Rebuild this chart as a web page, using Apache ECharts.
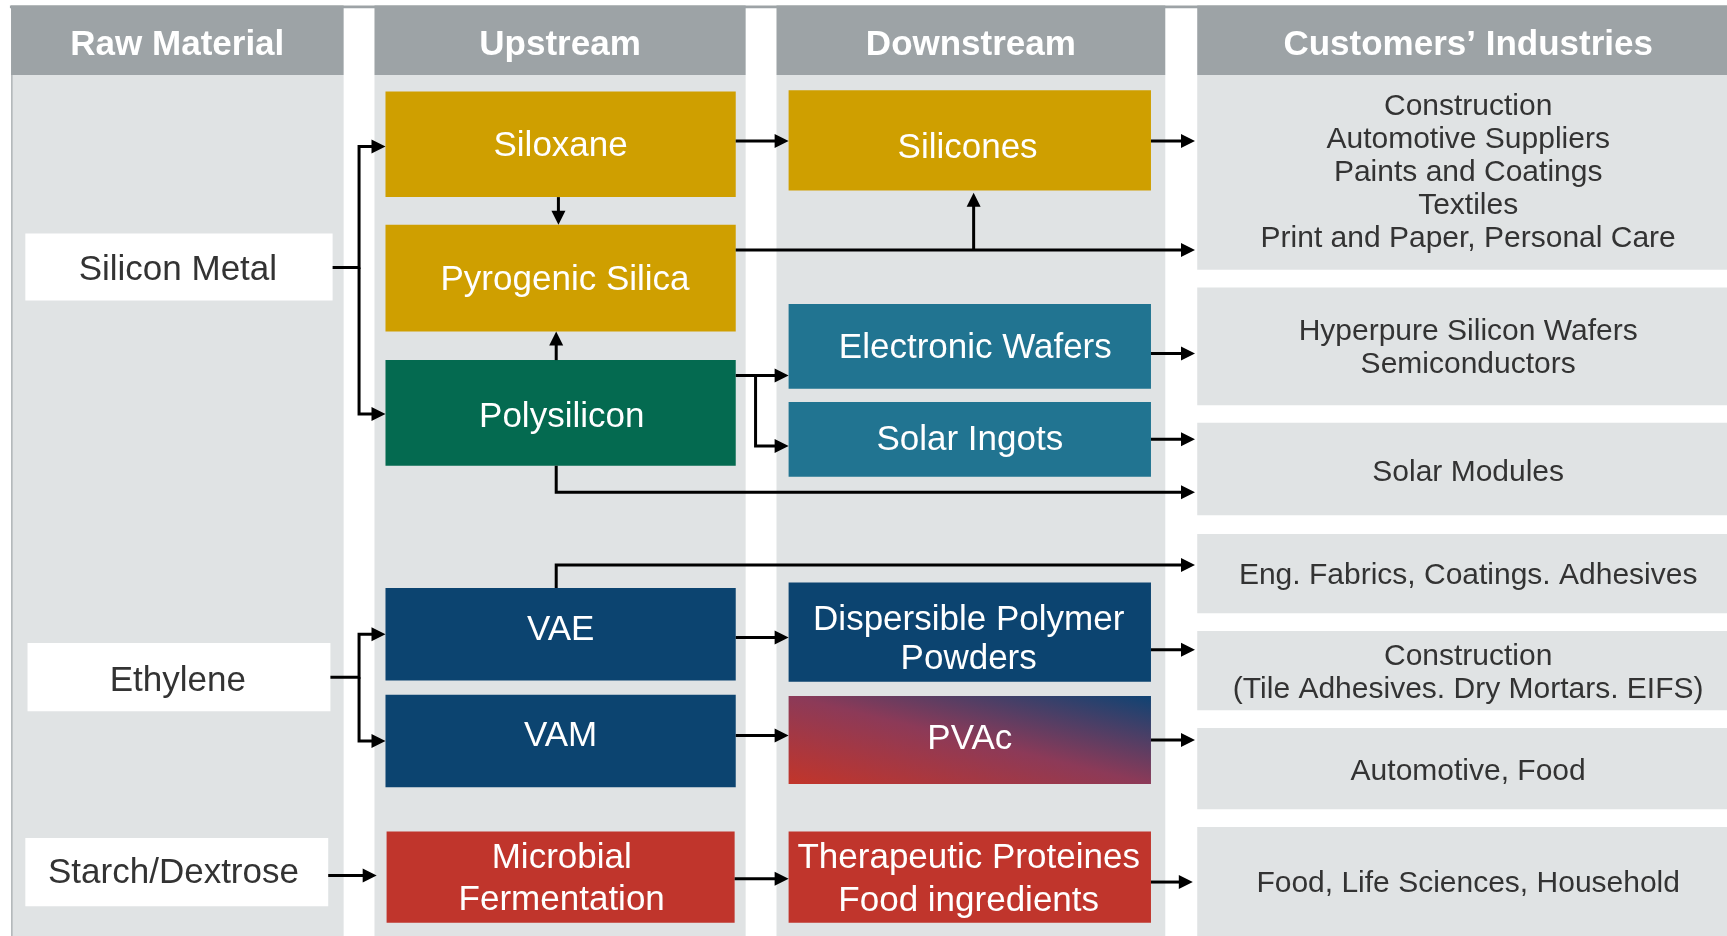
<!DOCTYPE html>
<html>
<head>
<meta charset="utf-8">
<title>Value chain</title>
<script src="https://cdn.jsdelivr.net/npm/echarts@6.0.0/dist/echarts.min.js"></script>
<style>
  html, body { margin: 0; padding: 0; background: #fff; }
  #chart { width: 1727px; height: 936px; }
</style>
</head>
<body>
<div id="chart"></div>
<script>
// column titles
const headers = ['Raw Material', 'Upstream', 'Downstream', 'Customers\u2019 Industries'];

// products of each stage
const rawMaterials = ['Silicon Metal', 'Ethylene', 'Starch/Dextrose'];
const upstream = ['Siloxane', 'Pyrogenic Silica', 'Polysilicon', 'VAE', 'VAM', 'Microbial\nFermentation'];
const downstream = ['Silicones', 'Electronic Wafers', 'Solar Ingots', 'Dispersible Polymer\nPowders', 'PVAc', 'Therapeutic Proteines\nFood ingredients'];
const industries = [
  'Construction\nAutomotive Suppliers\nPaints and Coatings\nTextiles\nPrint and Paper, Personal Care',
  'Hyperpure Silicon Wafers\nSemiconductors',
  'Solar Modules',
  'Eng. Fabrics, Coatings. Adhesives',
  'Construction\n(Tile Adhesives. Dry Mortars. EIFS)',
  'Automotive, Food',
  'Food, Life Sciences, Household'
];

// product family of every box, picks the colour
const upstreamFamily = ['silicone', 'silicone', 'poly', 'polymer', 'polymer', 'bio'];
const downstreamFamily = ['silicone', 'wafer', 'wafer', 'polymer', 'mixed', 'bio'];

// ---- layout, in units of a 1568 x 850 drawing grid ----
const colX = [[10, 312], [340, 677], [705, 1058], [1087, 1568]];
const headerY = [5, 68];
const headerShift = [[0, 4.5], [0, 4.5], [0, 4.5], [5.5, 4.5]];
const bodyBottom = 850;
// boxes are [x0, x1, y0, y1]
const rawBox = [[23, 302, 212, 273], [25, 300, 584, 646], [23, 298, 761, 823]];
const rawShift = [[-1, 3], [-1, 4], [-3, 1]];
const upBox = [
  [350, 668, 83, 179], [350, 668, 204, 301], [350, 668, 327, 423],
  [350, 668, 534, 618], [350, 668, 631, 715], [351, 667, 755, 838]
];
const upShift = [[0, 2], [4, 2], [1, 4], [0, -4], [0, -4], [1, 2.5]];
const upLine = [40, 40, 40, 40, 40, 42];
const downBox = [
  [716, 1045, 82, 173], [716, 1045, 276, 353], [716, 1045, 365, 433],
  [716, 1045, 529, 619], [716, 1045, 632, 712], [716, 1045, 755, 838]
];
const downShift = [[-2, 7], [5, 2], [0, 1], [-1, 7], [0, -1], [-1, 2.5]];
const downLine = [40, 40, 40, 38.5, 40, 43];
const bandY = [[68, 245], [261, 368], [384, 468], [485, 557], [573, 645], [661, 735], [751, 850]];
const bandShift = [[5.5, 0], [5.5, 2], [5.5, 3], [5.5, 2], [5.5, 2.5], [5.5, 3], [5.5, 2]];
// connectors, the last point is the arrow tip
const routes = [
  [[302, 243], [326, 243], [326, 133], [350, 133]],
  [[326, 243], [326, 376], [350, 376]],
  [[507, 179], [507, 204]],
  [[505, 327], [505, 301]],
  [[668, 128], [716, 128]],
  [[668, 227], [1085, 227]],
  [[884, 227], [884, 175]],
  [[1045, 128], [1085, 128]],
  [[668, 341], [716, 341]],
  [[686, 341], [686, 405], [716, 405]],
  [[505, 423], [505, 447], [1085, 447]],
  [[1045, 321], [1085, 321]],
  [[1045, 399], [1085, 399]],
  [[505, 534], [505, 513], [1085, 513]],
  [[300, 615], [326, 615], [326, 576], [350, 576]],
  [[326, 615], [326, 673], [350, 673]],
  [[668, 579], [716, 579]],
  [[668, 668], [716, 668]],
  [[1045, 590], [1085, 590]],
  [[1045, 672], [1085, 672]],
  [[298, 795], [342, 795]],
  [[667, 798], [716, 798]],
  [[1045, 801], [1083, 801]]
];

const FONT = '"Liberation Sans", Arial, sans-serif';
const headGray = '#9da3a6';
const bodyGray = '#e0e3e4';
const textDark = '#333333';
const familyColor = {
  silicone: '#cf9f00',
  poly: '#046a50',
  wafer: '#217491',
  polymer: '#0c4470',
  bio: '#c0352c'
};

// red-to-navy fill, iso lines along the box diagonal like the office gradient
function diagonalFill(r) {
  const w2 = r.width * r.width, h2 = r.height * r.height, l2 = w2 + h2;
  const a = h2 / l2, b = w2 / l2;
  return new echarts.graphic.LinearGradient(0.5 - a, 0.5 + b, 0.5 + a, 0.5 - b, [
    { offset: 0, color: '#c2352a' },
    { offset: 0.5, color: '#8c3a58' },
    { offset: 1, color: '#0f4373' }
  ]);
}

function rectOf(api, b) {
  const p0 = api.coord([b[0], b[2]]);
  const p1 = api.coord([b[1], b[3]]);
  return { x: p0[0], y: p0[1], width: p1[0] - p0[0], height: p1[1] - p0[1] };
}

function boxWithText(api, b, fill, text, color, size, weight, lineHeight, shift) {
  const r = rectOf(api, b);
  const s = shift || [0, 0];
  const k = r.width / (b[1] - b[0]);
  return {
    type: 'group',
    children: [
      { type: 'rect', shape: r, style: { fill: fill === 'mixed' ? diagonalFill(r) : fill } },
      {
        type: 'text',
        style: {
          text: text,
          x: r.x + r.width / 2 + s[0] * k,
          y: r.y + r.height / 2 + s[1] * k,
          align: 'center',
          verticalAlign: 'middle',
          fill: color,
          fontFamily: FONT,
          fontSize: size,
          fontWeight: weight || 'normal',
          lineHeight: lineHeight || size * 1.15
        }
      }
    ]
  };
}

const idx = arr => arr.map((d, i) => [i]);

const chart = echarts.init(document.getElementById('chart'));
chart.setOption({
  animation: false,
  grid: { left: 0, right: 0, top: 0, bottom: 0 },
  xAxis: { type: 'value', min: 0, max: 1568, show: false },
  yAxis: { type: 'value', min: 0, max: 850, inverse: true, show: false },
  series: [
    {
      // columns: header and grey body
      type: 'custom',
      data: idx(headers),
      renderItem: function (params, api) {
        const i = params.dataIndex;
        const c = colX[i];
        const children = [];
        if (i < 3) {
          children.push({ type: 'rect', shape: rectOf(api, [c[0], c[1], headerY[1], bodyBottom]), style: { fill: bodyGray } });
        }
        if (i === 0) {
          // thin top strip and left edge
          children.push({ type: 'rect', shape: rectOf(api, [9, 1568, headerY[0], headerY[0] + 2.5]), style: { fill: headGray } });
          children.push({ type: 'rect', shape: rectOf(api, [c[0], c[0] + 1.5, headerY[1], bodyBottom]), style: { fill: '#b4b9bb' } });
        }
        children.push(boxWithText(api, [c[0], c[1], headerY[0], headerY[1]], headGray, headers[i], '#ffffff', 35, 'bold', 40, headerShift[i]));
        return { type: 'group', children: children };
      }
    },
    {
      // customers' industries bands
      type: 'custom',
      data: idx(industries),
      renderItem: function (params, api) {
        const i = params.dataIndex;
        const b = [colX[3][0], colX[3][1], bandY[i][0], bandY[i][1]];
        return boxWithText(api, b, bodyGray, industries[i], textDark, 30, 'normal', 33, bandShift[i]);
      }
    },
    {
      type: 'custom',
      data: idx(rawMaterials),
      renderItem: function (params, api) {
        const i = params.dataIndex;
        return boxWithText(api, rawBox[i], '#ffffff', rawMaterials[i], textDark, 35, 'normal', 40, rawShift[i]);
      }
    },
    {
      type: 'custom',
      data: idx(upstream),
      renderItem: function (params, api) {
        const i = params.dataIndex;
        return boxWithText(api, upBox[i], familyColor[upstreamFamily[i]], upstream[i], '#ffffff', 35, 'normal', upLine[i], upShift[i]);
      }
    },
    {
      type: 'custom',
      data: idx(downstream),
      renderItem: function (params, api) {
        const i = params.dataIndex;
        const fam = downstreamFamily[i];
        return boxWithText(api, downBox[i], familyColor[fam] || fam, downstream[i], '#ffffff', 35, 'normal', downLine[i], downShift[i]);
      }
    },
    {
      // connectors with arrow heads
      type: 'custom',
      data: idx(routes),
      renderItem: function (params, api) {
        const pts = routes[params.dataIndex].map(p => api.coord(p));
        const tip = pts[pts.length - 1];
        const prev = pts[pts.length - 2];
        const dx = tip[0] - prev[0], dy = tip[1] - prev[1];
        const len = Math.sqrt(dx * dx + dy * dy);
        const ux = dx / len, uy = dy / len;
        const L = 14, W = 7;
        const base = [tip[0] - ux * L, tip[1] - uy * L];
        const linePts = pts.slice(0, -1).concat([[base[0] + ux, base[1] + uy]]);
        return {
          type: 'group',
          children: [
            {
              type: 'polyline',
              shape: { points: linePts },
              style: { stroke: '#000000', lineWidth: 3, fill: null, lineJoin: 'miter' }
            },
            {
              type: 'polygon',
              shape: { points: [tip, [base[0] - uy * W, base[1] + ux * W], [base[0] + uy * W, base[1] - ux * W]] },
              style: { fill: '#000000' }
            }
          ]
        };
      }
    }
  ]
});
</script>
</body>
</html>
